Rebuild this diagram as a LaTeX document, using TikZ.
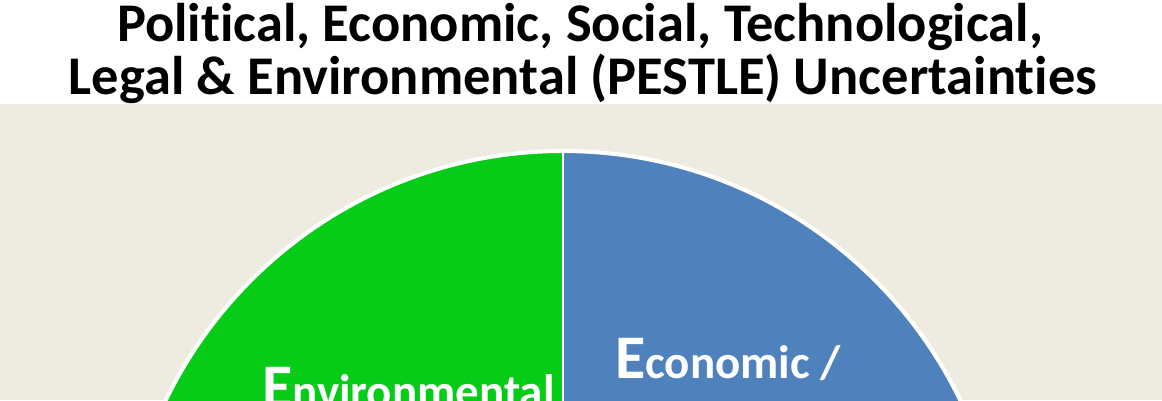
\documentclass[tikz,border=0pt]{standalone}
\usepackage{fontspec}
\setmainfont{Carlito}[Ligatures=NoCommon]
\usetikzlibrary{positioning}
\definecolor{bgbeige}{HTML}{EEECE1}
\definecolor{envgreen}{HTML}{06CC18}
\definecolor{econblue}{HTML}{4F81BD}
\newcommand{\biginit}[1]{{\fontsize{62}{62}\selectfont #1}}

\begin{document}
\begin{tikzpicture}[x=1pt, y=1pt,
 ttl/.style={font=\fontsize{54.5}{56}\selectfont\bfseries, anchor=base, inner sep=0pt},
 seglbl/.style={font=\fontsize{47}{47}\selectfont\bfseries, text=white, anchor=base west, inner sep=0pt}]
\useasboundingbox (0,0) rectangle (1162,400);
\clip (0,0) rectangle (1162,400);
% fond
\fill[bgbeige] (0,0) rectangle (1162,296);
% secteurs
\coordinate (ctr) at (563,-192);
\fill[econblue] (ctr) -- ++(90:441) arc[start angle=90, end angle=0, radius=441] -- cycle;
\fill[envgreen] (ctr) -- ++(90:441) arc[start angle=90, end angle=180, radius=441] -- cycle;
\draw[white, line width=4pt] (ctr) circle[radius=441];
\draw[white, line width=2.5pt] (ctr) -- ++(0,441);
% titre
\node[ttl] (ttlA) at (580,358) {Political, Economic, Social, Technological,};
\node[ttl] (ttlB) at (583,306) {Legal \& Environmental (PESTLE) Uncertainties};
% etiquettes
\node[seglbl] (envlbl) at (262,-7) {\biginit{E}nvironmental};
\node[seglbl] (econlbl) at (615,22) {\biginit{E}conomic /};
\end{tikzpicture}
\end{document}
